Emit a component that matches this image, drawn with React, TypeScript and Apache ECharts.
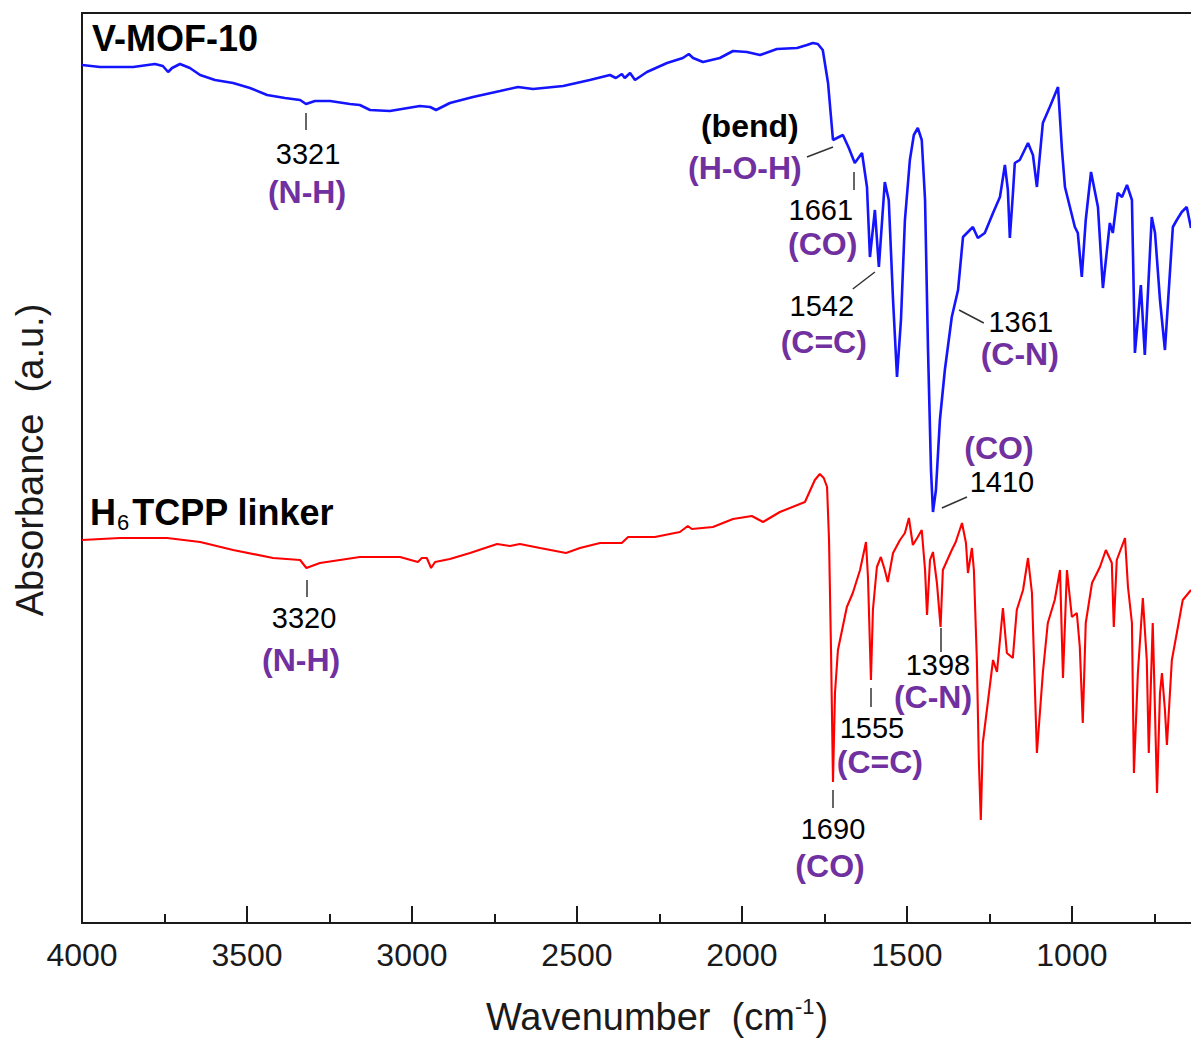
import React, { useEffect, useRef } from "react";
import * as echarts from "echarts";

// FTIR spectra, offset vertically: [wavenumber (cm-1), absorbance (a.u.)]
const vmof10Spectrum: [number, number][] = [
  [4000, 858], [3945, 856], [3845, 856], [3779, 859], [3755, 857], [3739, 851], [3727, 855],
  [3703, 859], [3673, 855], [3642, 848], [3597, 843], [3542, 840], [3491, 835], [3439, 828],
  [3385, 825], [3339, 823], [3321, 819], [3294, 822], [3248, 822], [3188, 819], [3158, 818],
  [3127, 813], [3067, 812], [2976, 817], [2945, 816], [2927, 813], [2885, 820], [2815, 826],
  [2733, 832], [2679, 836], [2633, 834], [2542, 837], [2461, 843], [2400, 848], [2382, 845],
  [2364, 849], [2355, 845], [2339, 850], [2324, 843], [2288, 851], [2227, 860], [2179, 865],
  [2161, 869], [2148, 865], [2118, 861], [2067, 865], [2027, 872], [1985, 871], [1945, 868],
  [1894, 874], [1833, 875], [1803, 878], [1785, 880], [1770, 879], [1755, 873], [1739, 840],
  [1724, 783], [1694, 788], [1676, 775], [1658, 760], [1636, 770], [1621, 736], [1612, 666],
  [1597, 713], [1585, 656], [1567, 741], [1555, 723], [1542, 623], [1530, 546], [1518, 603],
  [1506, 703], [1491, 763], [1479, 788], [1467, 795], [1455, 783], [1445, 723], [1436, 573],
  [1427, 453], [1421, 411], [1412, 433], [1400, 503], [1385, 553], [1364, 606], [1345, 633],
  [1330, 686], [1300, 696], [1285, 685], [1264, 690], [1239, 710], [1218, 726], [1203, 758],
  [1194, 733], [1188, 685], [1179, 728], [1173, 760], [1158, 763], [1133, 780], [1118, 768],
  [1106, 736], [1088, 800], [1067, 816], [1042, 836], [1030, 773], [1021, 736], [1006, 716],
  [991, 696], [982, 690], [970, 646], [958, 703], [942, 751], [921, 716], [906, 635],
  [885, 700], [876, 690], [861, 730], [848, 726], [833, 738], [818, 723], [809, 570],
  [800, 603], [791, 638], [779, 568], [758, 706], [748, 690], [733, 623], [718, 573],
  [694, 696], [682, 703], [667, 711], [652, 716], [639, 695],
];

const h6tcppSpectrum: [number, number][] = [
  [4000, 383], [3885, 385], [3742, 385], [3642, 381], [3542, 373], [3421, 365], [3339, 363],
  [3320, 355], [3279, 360], [3158, 366], [3036, 366], [2982, 361], [2970, 365], [2955, 365],
  [2942, 355], [2930, 361], [2885, 364], [2824, 370], [2742, 379], [2703, 377], [2673, 379],
  [2612, 375], [2533, 370], [2491, 375], [2430, 380], [2364, 380], [2345, 386], [2264, 386],
  [2188, 391], [2164, 397], [2152, 394], [2088, 396], [2027, 404], [1970, 407], [1936, 401],
  [1885, 411], [1809, 421], [1779, 443], [1764, 449], [1752, 445], [1742, 436], [1736, 383],
  [1730, 273], [1724, 141], [1718, 230], [1709, 273], [1682, 316], [1664, 330], [1642, 353],
  [1624, 381], [1618, 346], [1609, 243], [1603, 313], [1591, 356], [1579, 366], [1567, 353],
  [1558, 341], [1542, 370], [1521, 383], [1506, 390], [1494, 405], [1482, 378], [1467, 386],
  [1455, 393], [1445, 353], [1439, 308], [1430, 363], [1421, 371], [1409, 340], [1398, 296],
  [1391, 353], [1364, 373], [1352, 381], [1333, 400], [1321, 380], [1315, 350], [1303, 375],
  [1297, 353], [1288, 263], [1282, 163], [1276, 103], [1270, 180], [1255, 220], [1239, 263],
  [1227, 251], [1209, 315], [1197, 270], [1179, 265], [1167, 313], [1148, 333], [1133, 365],
  [1121, 330], [1106, 170], [1088, 250], [1073, 300], [1052, 323], [1036, 353], [1027, 245],
  [1015, 353], [1000, 306], [985, 310], [976, 276], [967, 200], [958, 300], [939, 340],
  [915, 356], [897, 373], [879, 360], [873, 296], [864, 363], [839, 385], [830, 336],
  [818, 300], [812, 150], [800, 250], [785, 325], [773, 263], [767, 170], [755, 300],
  [752, 263], [742, 130], [733, 230], [727, 250], [718, 213], [712, 178], [697, 263],
  [682, 290], [664, 323], [639, 333],
];

const WAVENUMBER_TICKS = [4000, 3500, 3000, 2500, 2000, 1500, 1000];
const MINOR_TICKS = [3750, 3250, 2750, 2250, 1750, 1250, 750];

// Peak positions and band assignments
const peakNumbers = ["3321", "1661", "1542", "1361", "1410", "3320", "1398", "1555", "1690"];
const bandNames = ["(N-H)", "(CO)", "(C=C)", "(C-N)", "(CO)", "(N-H)", "(C-N)", "(C=C)", "(CO)", "(H-O-H)"];

// Where each annotation text sits, in axis coordinates
const peakNumberAnchors: [number, number][] = [
  [3315, 769], [1761, 713], [1758, 617], [1155, 601], [1212, 441],
  [3327, 305], [1406, 258], [1606, 195], [1724, 94],
];
const bandNameAnchors: [number, number][] = [
  [3318, 731], [1755, 679], [1752, 581], [1158, 569], [1221, 475],
  [3336, 263], [1421, 226], [1582, 161], [1733, 57], [1991, 755],
];
const bendAnchor: [number, number] = [1976, 797];
const sampleAnchors: [number, number][] = [[3970, 885], [3976, 411]];

// Leader lines from labels to the peaks
const peakLeaders: [number, number][][] = [
  [[3321, 810], [3321, 793]],
  [[1803, 766], [1724, 776]],
  [[1661, 751], [1661, 733]],
  [[1664, 634], [1597, 651]],
  [[1342, 613], [1267, 600]],
  [[1394, 415], [1318, 426]],
  [[3320, 343], [3320, 326]],
  [[1398, 295], [1398, 271]],
  [[1609, 235], [1609, 216]],
  [[1724, 133], [1724, 115]],
];

const FONT = "'Liberation Sans', Arial, Helvetica, sans-serif";
const PURPLE = "#7030a0";
const AXIS_COLOR = "#1a1a1a";
const TEXT_COLOR = "#000000";

export default function App() {
  const ref = useRef<HTMLDivElement>(null);

  useEffect(() => {
    if (!ref.current) return;
    const chart = echarts.init(ref.current, null, { renderer: "svg" });

    const axisLineStyle = { color: AXIS_COLOR, width: 2 };
    const baseX = {
      type: "value",
      inverse: true,
      min: 639,
      max: 4000,
      splitLine: { show: false },
    };
    const plainLabel = { textBorderWidth: 0, textShadowBlur: 0, opacity: 1 };

    const textItems: any[] = [];
    peakNumbers.forEach((t, i) => {
      textItems.push({
        value: peakNumberAnchors[i],
        name: t,
        label: { ...plainLabel, fontSize: 29, color: TEXT_COLOR, fontWeight: "normal" },
      });
    });
    bandNames.forEach((t, i) => {
      textItems.push({
        value: bandNameAnchors[i],
        name: t,
        label: { ...plainLabel, fontSize: 32, color: PURPLE, fontWeight: "bold" },
      });
    });
    textItems.push({
      value: bendAnchor,
      name: "(bend)",
      label: { ...plainLabel, fontSize: 32, color: TEXT_COLOR, fontWeight: "bold" },
    });

    const sampleItems = [
      { value: sampleAnchors[0], name: "V-MOF-10", label: { formatter: "{m|V-MOF-10}" } },
      { value: sampleAnchors[1], name: "H6TCPP linker", label: { formatter: "{m|H}{s|6}{m|TCPP linker}" } },
    ];

    chart.setOption({
      animation: false,
      backgroundColor: "#ffffff",
      grid: { left: 82, right: 0, top: 13, bottom: 117, containLabel: false, outerBoundsMode: "none" },
      xAxis: [
        {
          ...baseX,
          position: "bottom",
          axisLine: { show: true, onZero: false, lineStyle: axisLineStyle },
          axisTick: { show: true, inside: true, length: 17, customValues: WAVENUMBER_TICKS, lineStyle: axisLineStyle },
          axisLabel: {
            show: true,
            customValues: WAVENUMBER_TICKS,
            formatter: (v: number) => String(Math.round(v)),
            fontSize: 32,
            color: AXIS_COLOR,
            fontFamily: FONT,
            margin: 16,
          },
        },
        {
          ...baseX,
          position: "bottom",
          axisLine: { show: false, onZero: false },
          axisTick: { show: true, inside: true, length: 9, customValues: MINOR_TICKS, lineStyle: axisLineStyle },
          axisLabel: { show: false },
        },
        {
          ...baseX,
          position: "top",
          axisLine: { show: true, onZero: false, lineStyle: axisLineStyle },
          axisTick: { show: false },
          axisLabel: { show: false },
        },
      ],
      yAxis: {
        type: "value",
        min: 0,
        max: 910,
        axisLine: { show: true, onZero: false, lineStyle: axisLineStyle },
        axisTick: { show: false },
        axisLabel: { show: false },
        splitLine: { show: false },
      },
      series: [
        {
          type: "line",
          name: "V-MOF-10",
          data: vmof10Spectrum,
          showSymbol: false,
          symbol: "none",
          lineStyle: { color: "#1414ff", width: 2.6 },
          itemStyle: { color: "#1414ff" },
          silent: true,
        },
        {
          type: "line",
          name: "H6TCPP linker",
          data: h6tcppSpectrum,
          showSymbol: false,
          symbol: "none",
          lineStyle: { color: "#ff0000", width: 2.1 },
          itemStyle: { color: "#ff0000" },
          silent: true,
        },
        {
          type: "lines",
          coordinateSystem: "cartesian2d",
          data: peakLeaders.map((c) => ({ coords: c })),
          lineStyle: { color: "#333333", width: 1.5, opacity: 1 },
          symbol: "none",
          silent: true,
        },
        {
          type: "scatter",
          data: textItems,
          symbolSize: 0,
          itemStyle: { color: "#ffffff", opacity: 0 },
          silent: true,
          label: {
            show: true,
            position: "inside",
            formatter: "{b}",
            fontFamily: FONT,
            align: "center",
            verticalAlign: "middle",
          },
        },
        {
          type: "scatter",
          data: sampleItems,
          symbolSize: 0,
          itemStyle: { color: "#ffffff", opacity: 0 },
          silent: true,
          label: {
            show: true,
            position: "right",
            distance: 0,
            ...plainLabel,
            rich: {
              m: { fontSize: 36, fontWeight: "bold", color: TEXT_COLOR, fontFamily: FONT, lineHeight: 42 },
              s: { fontSize: 22, fontWeight: "normal", color: TEXT_COLOR, fontFamily: FONT, lineHeight: 18, verticalAlign: "bottom", padding: [0, 3, 0, 1] },
            },
          },
        },
      ],
      graphic: [
        {
          type: "text",
          x: 30,
          y: 460,
          rotation: Math.PI / 2,
          style: {
            text: "Absorbance  (a.u.)",
            fontSize: 38,
            fontFamily: FONT,
            fill: AXIS_COLOR,
            align: "center",
            verticalAlign: "middle",
          },
        },
        {
          type: "text",
          x: 657,
          y: 1017,
          style: {
            text: "{t|Wavenumber  (cm}{u|-1}{t|)}",
            fontFamily: FONT,
            fill: AXIS_COLOR,
            align: "center",
            verticalAlign: "middle",
            rich: {
              t: { fontSize: 38, fontFamily: FONT, fill: AXIS_COLOR, lineHeight: 44 },
              u: { fontSize: 22, fontFamily: FONT, fill: AXIS_COLOR, lineHeight: 44, verticalAlign: "top", padding: [0, 1, 14, 0] },
            },
          },
        },
      ],
    });

    return () => chart.dispose();
  }, []);

  return (
    <div
      ref={ref}
      style={{ position: "fixed", left: 0, top: 0, width: 1191, height: 1040, background: "#ffffff" }}
    />
  );
}
